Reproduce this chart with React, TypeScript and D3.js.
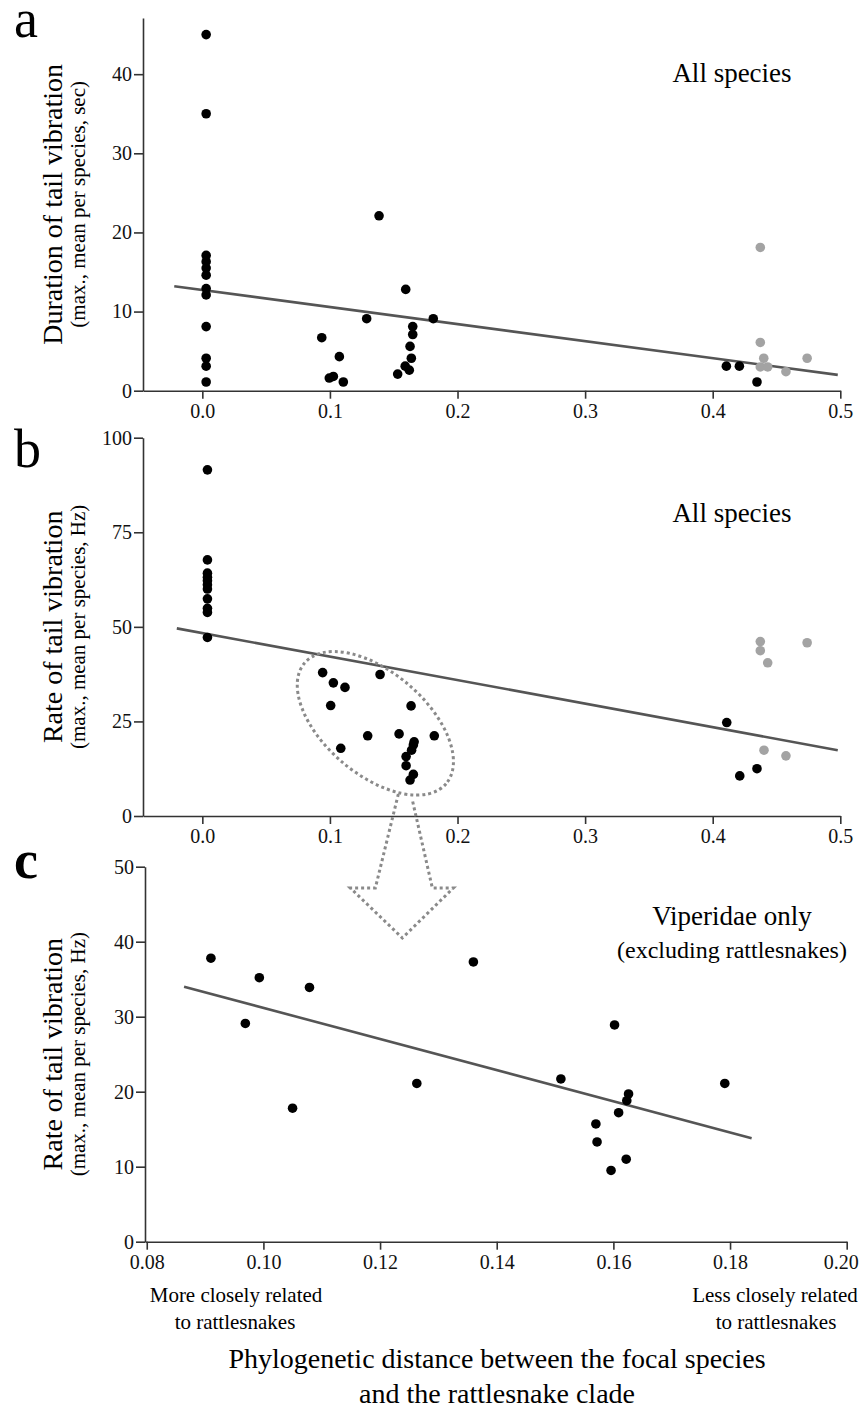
import React, { useEffect, useRef } from 'react';
import * as d3 from 'd3';

const W = 863;
const H = 1412;
const FONT = '"Liberation Serif", "Times New Roman", serif';

// panel a: duration of tail vibration (sec) vs phylogenetic distance
const durationBlack: [number, number][] = [
  [0.003, 45.0], [0.003, 35.0], [0.003, 17.1], [0.003, 16.3], [0.003, 15.5], [0.003, 14.6],
  [0.003, 12.9], [0.003, 12.1], [0.003, 8.1], [0.003, 4.1], [0.003, 3.1], [0.003, 1.1],
  [0.0936, 6.7], [0.0995, 1.6], [0.1027, 1.8], [0.1074, 4.3], [0.1105, 1.1], [0.1288, 9.1],
  [0.1385, 22.1], [0.1531, 2.1], [0.1594, 12.8], [0.159, 3.1], [0.1622, 2.6], [0.1628, 5.6],
  [0.1638, 4.1], [0.1649, 8.1], [0.1649, 7.1], [0.181, 9.1],
  [0.4107, 3.1], [0.4209, 3.1], [0.4347, 1.1],
];
const durationGrey: [number, number][] = [
  [0.4373, 18.1], [0.4373, 6.1], [0.44, 4.1], [0.4373, 3.0], [0.4431, 3.0], [0.4574, 2.4], [0.474, 4.1],
];
const durationFit: [number, number][] = [[-0.022, 13.2], [0.498, 2.0]];

// panel b: rate of tail vibration (Hz), all species
const rateBlack: [number, number][] = [
  [0.004, 91.5], [0.004, 67.7], [0.004, 64.2], [0.004, 63.1], [0.004, 62.2], [0.004, 61.1],
  [0.004, 60.0], [0.004, 57.4], [0.004, 54.9], [0.004, 53.8], [0.004, 47.2],
  [0.0943, 37.9], [0.1027, 35.2], [0.1118, 34.0], [0.1006, 29.2], [0.1085, 17.9], [0.1296, 21.2],
  [0.1393, 37.4], [0.1542, 21.7], [0.1636, 29.1], [0.1597, 15.7], [0.1597, 13.3], [0.1628, 9.5],
  [0.1654, 11.0], [0.164, 17.4], [0.1654, 18.8], [0.166, 19.6], [0.1818, 21.2],
  [0.411, 24.7], [0.4212, 10.6], [0.4347, 12.5],
];
const rateGrey: [number, number][] = [
  [0.4373, 46.1], [0.4373, 43.7], [0.4431, 40.5], [0.474, 45.8], [0.4402, 17.4], [0.4574, 15.9],
];
const rateFit: [number, number][] = [[-0.02, 49.6], [0.498, 17.4]];

// panel c: Viperidae only (excluding rattlesnakes)
const viperRate: [number, number][] = [
  [0.091, 37.8], [0.0969, 29.1], [0.0993, 35.2], [0.105, 17.8], [0.1079, 33.9], [0.1263, 21.1],
  [0.136, 37.3], [0.151, 21.7], [0.1602, 28.9], [0.157, 15.7], [0.1572, 13.3], [0.1596, 9.5],
  [0.1609, 17.2], [0.1622, 11.0], [0.1623, 18.8], [0.1626, 19.7], [0.1791, 21.1],
];
const viperFit: [number, number][] = [[0.0864, 34.0], [0.1837, 13.8]];

const xTicksAll = [0, 0.1, 0.2, 0.3, 0.4, 0.5];
const xTicksViper = [0.08, 0.1, 0.12, 0.14, 0.16, 0.18, 0.2];
const yTicksDuration = [0, 10, 20, 30, 40];
const yTicksRate = [0, 25, 50, 75, 100];
const yTicksViper = [0, 10, 20, 30, 40, 50];

export default function App() {
  const ref = useRef<SVGSVGElement>(null);

  useEffect(() => {
    const svg = d3.select(ref.current);
    svg.selectAll('*').remove();
    svg.append('rect').attr('width', W).attr('height', H).attr('fill', '#fff');

    const drawPanel = (p: any) => {
      const g = svg.append('g');
      const x = p.x, y = p.y;
      const x0 = x.range()[0];
      const y0 = y.range()[0];

      const yAxis = g.append('g')
        .attr('transform', `translate(${x0},0)`)
        .call(d3.axisLeft(y).tickValues(p.yTicks).tickSize(9).tickPadding(2).tickSizeOuter(0).tickFormat(d3.format('d')));
      const xAxis = g.append('g')
        .attr('transform', `translate(0,${y0})`)
        .call(d3.axisBottom(x).tickValues(p.xTicks).tickSize(8).tickPadding(5).tickSizeOuter(0).tickFormat(d3.format(p.xFmt)));
      [yAxis, xAxis].forEach(a => {
        a.selectAll('path, line').attr('stroke', '#333').attr('stroke-width', 1.6);
        a.selectAll('text').attr('font-family', FONT).attr('font-size', 20).attr('fill', '#111');
      });
      // last x label sits a bit inside the page edge
      if (p.lastLabelShift) {
        xAxis.selectAll('.tick:last-of-type text').attr('dx', p.lastLabelShift);
      }

      // regression line
      g.append('path')
        .attr('d', d3.line().x(d => x(d[0])).y(d => y(d[1]))(p.fit))
        .attr('stroke', '#555').attr('stroke-width', 2.6).attr('fill', 'none');

      g.selectAll('.grey').data(p.grey).enter().append('circle')
        .attr('cx', (d: any) => x(d[0])).attr('cy', (d: any) => y(d[1])).attr('r', 4.8).attr('fill', '#a3a3a3');
      g.selectAll('.black').data(p.black).enter().append('circle')
        .attr('cx', (d: any) => x(d[0])).attr('cy', (d: any) => y(d[1])).attr('r', 4.8).attr('fill', '#000');

      // panel letter
      g.append('text').attr('x', 14).attr('y', p.letterY).text(p.letter)
        .attr('font-family', FONT).attr('font-size', 54).attr('font-weight', p.letterBold ? 'bold' : 'normal');

      // y titles
      const cy = (y.range()[0] + y.range()[1]) / 2;
      g.append('text').attr('transform', `translate(62,${cy}) rotate(-90)`).attr('text-anchor', 'middle')
        .attr('font-family', FONT).attr('font-size', 28).text(p.title);
      g.append('text').attr('transform', `translate(85,${cy}) rotate(-90)`).attr('text-anchor', 'middle')
        .attr('font-family', FONT).attr('font-size', 21).text(p.sub);

      p.notes.forEach((n: any) => {
        g.append('text').attr('x', 732).attr('y', n.y).attr('text-anchor', 'middle')
          .attr('font-family', FONT).attr('font-size', n.size).text(n.text);
      });
      return { x, y };
    };

    drawPanel({
      x: d3.scaleLinear().domain([-0.0465, 0.5]).range([143, 840.3]),
      y: d3.scaleLinear().domain([0, 47.1]).range([390.7, 18]),
      xTicks: xTicksAll, yTicks: yTicksDuration, xFmt: '.1f',
      black: durationBlack, grey: durationGrey, fit: durationFit,
      letter: 'a', letterY: 37,
      title: 'Duration of tail vibration', sub: '(max., mean per species, sec)',
      notes: [{ text: 'All species', y: 82, size: 27 }],
    });

    const b = drawPanel({
      x: d3.scaleLinear().domain([-0.0465, 0.5]).range([143, 840.3]),
      y: d3.scaleLinear().domain([0, 100]).range([816, 437.7]),
      xTicks: xTicksAll, yTicks: yTicksRate, xFmt: '.1f',
      black: rateBlack, grey: rateGrey, fit: rateFit,
      letter: 'b', letterY: 467,
      title: 'Rate of tail vibration', sub: '(max., mean per species, Hz)',
      notes: [{ text: 'All species', y: 522, size: 27 }],
    });

    drawPanel({
      x: d3.scaleLinear().domain([0.0797, 0.2]).range([145, 846.7]),
      y: d3.scaleLinear().domain([0, 50]).range([1241.7, 866.7]),
      xTicks: xTicksViper, yTicks: yTicksViper, xFmt: '.2f', lastLabelShift: -6,
      black: viperRate, grey: [], fit: viperFit,
      letter: 'c', letterY: 878, letterBold: true,
      title: 'Rate of tail vibration', sub: '(max., mean per species, Hz)',
      notes: [
        { text: 'Viperidae only', y: 925, size: 27 },
        { text: '(excluding rattlesnakes)', y: 958, size: 24 },
      ],
    });

    // dotted ellipse around the Viperidae cluster in panel b, and arrow to panel c
    const ex = b.x(0.1356), ey = b.y(24.5);
    const dotted = (s: any) => s.attr('fill', 'none').attr('stroke', '#8a8a8a')
      .attr('stroke-width', 3).attr('stroke-dasharray', '3 3');
    dotted(svg.append('ellipse')
      .attr('cx', 0).attr('cy', 0).attr('rx', 93).attr('ry', 51)
      .attr('transform', `translate(${ex},${ey}) rotate(40.5)`));

    const ax = ex + 27;
    const arrow: [number, number][] = [
      [ax - 4, 794], [ax - 27, 888], [ax - 52, 888], [ax, 938], [ax + 51, 888], [ax + 30, 888], [ax + 10, 800],
    ];
    dotted(svg.append('path').attr('d', d3.line()(arrow)));

    // bottom labels
    const bottom = [
      { text: 'More closely related', x: 236, y: 1302, size: 21 },
      { text: 'to rattlesnakes', x: 235, y: 1329, size: 21 },
      { text: 'Less closely related', x: 775, y: 1302, size: 21 },
      { text: 'to rattlesnakes', x: 776, y: 1329, size: 21 },
      { text: 'Phylogenetic distance between the focal species', x: 497, y: 1368, size: 28 },
      { text: 'and the rattlesnake clade', x: 497, y: 1403, size: 28 },
    ];
    bottom.forEach(t => {
      svg.append('text').attr('x', t.x).attr('y', t.y).attr('text-anchor', 'middle')
        .attr('font-family', FONT).attr('font-size', t.size).text(t.text);
    });
  }, []);

  return (
    <svg
      ref={ref}
      width={W}
      height={H}
      style={{ position: 'absolute', left: 0, top: 0 }}
    />
  );
}
